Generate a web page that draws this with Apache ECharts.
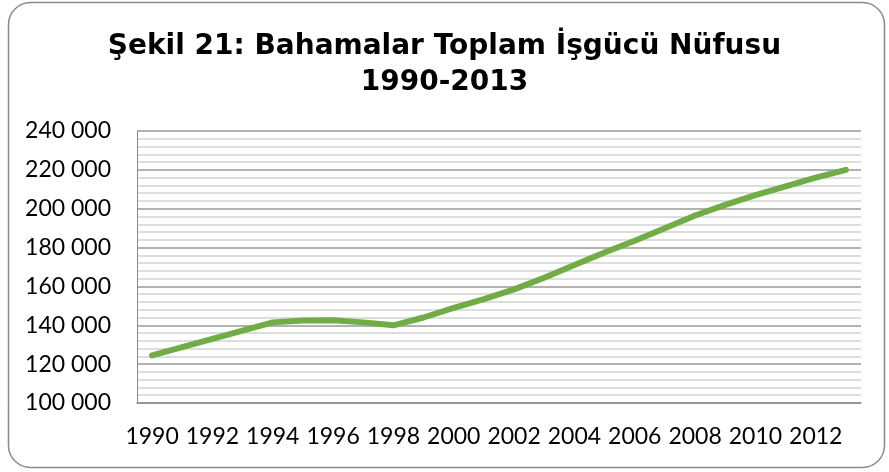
<!DOCTYPE html>
<html><head><meta charset="utf-8">
<script src="https://cdn.jsdelivr.net/npm/echarts@6/dist/echarts.min.js"></script>
<style>html,body{margin:0;padding:0;background:#fff}#c{width:889px;height:472px}</style>
</head><body><div id="c"></div>
<script>
const years = ['1990','1991','1992','1993','1994','1995','1996','1997','1998','1999','2000','2001','2002','2003','2004','2005','2006','2007','2008','2009','2010','2011','2012','2013'];
const labourForce = [124500,128800,133000,137300,141500,142500,142600,141500,140000,144000,149000,153500,158500,164500,171000,177500,183500,190000,196500,202000,207000,211500,216000,220000];
const titleText = 'Şekil 21: Bahamalar Toplam İşgücü Nüfusu\n1990-2013';

const chart = echarts.init(document.getElementById('c'), null, {renderer:'canvas'});
chart.setOption({
  animation:false,
  graphic:[{type:'rect',shape:{x:8.5,y:2.5,width:876,height:465,r:22},style:{fill:'#fff',stroke:'#8a8a8a',lineWidth:1.5},z:-10}],
  title:{text:titleText,left:'center',top:24,textStyle:{fontFamily:'DejaVu Sans',fontWeight:'bold',fontSize:28,lineHeight:36,color:'#000'}},
  grid:{left:137,right:28,top:131,bottom:69},
  xAxis:{type:'category',data:years,boundaryGap:true,
    axisLine:{show:true,lineStyle:{color:'#8c8c8c',width:1.5}},
    axisTick:{show:false},
    axisLabel:{interval:1,color:'#000',fontFamily:'Lato',fontSize:23,margin:22},
    splitLine:{show:false}},
  yAxis:{type:'value',min:100000,max:240000,interval:20000,
    axisLine:{show:true,lineStyle:{color:'#8c8c8c',width:1}},
    axisTick:{show:false},
    axisLabel:{color:'#000',fontFamily:'Lato',fontSize:23,margin:26,formatter:v=>String(v).replace(/\B(?=(\d{3})+(?!\d))/g,' ')},
    splitLine:{show:true,lineStyle:{color:'#999999',width:1.5}},
    minorTick:{show:false,splitNumber:5},
    minorSplitLine:{show:true,lineStyle:{color:'#d2d2d2',width:1.5}}},
  series:[{type:'line',data:labourForce,showSymbol:false,smooth:false,
    lineStyle:{color:'#70ad47',width:6,cap:'round',join:'round'}}]
});
</script></body></html>
